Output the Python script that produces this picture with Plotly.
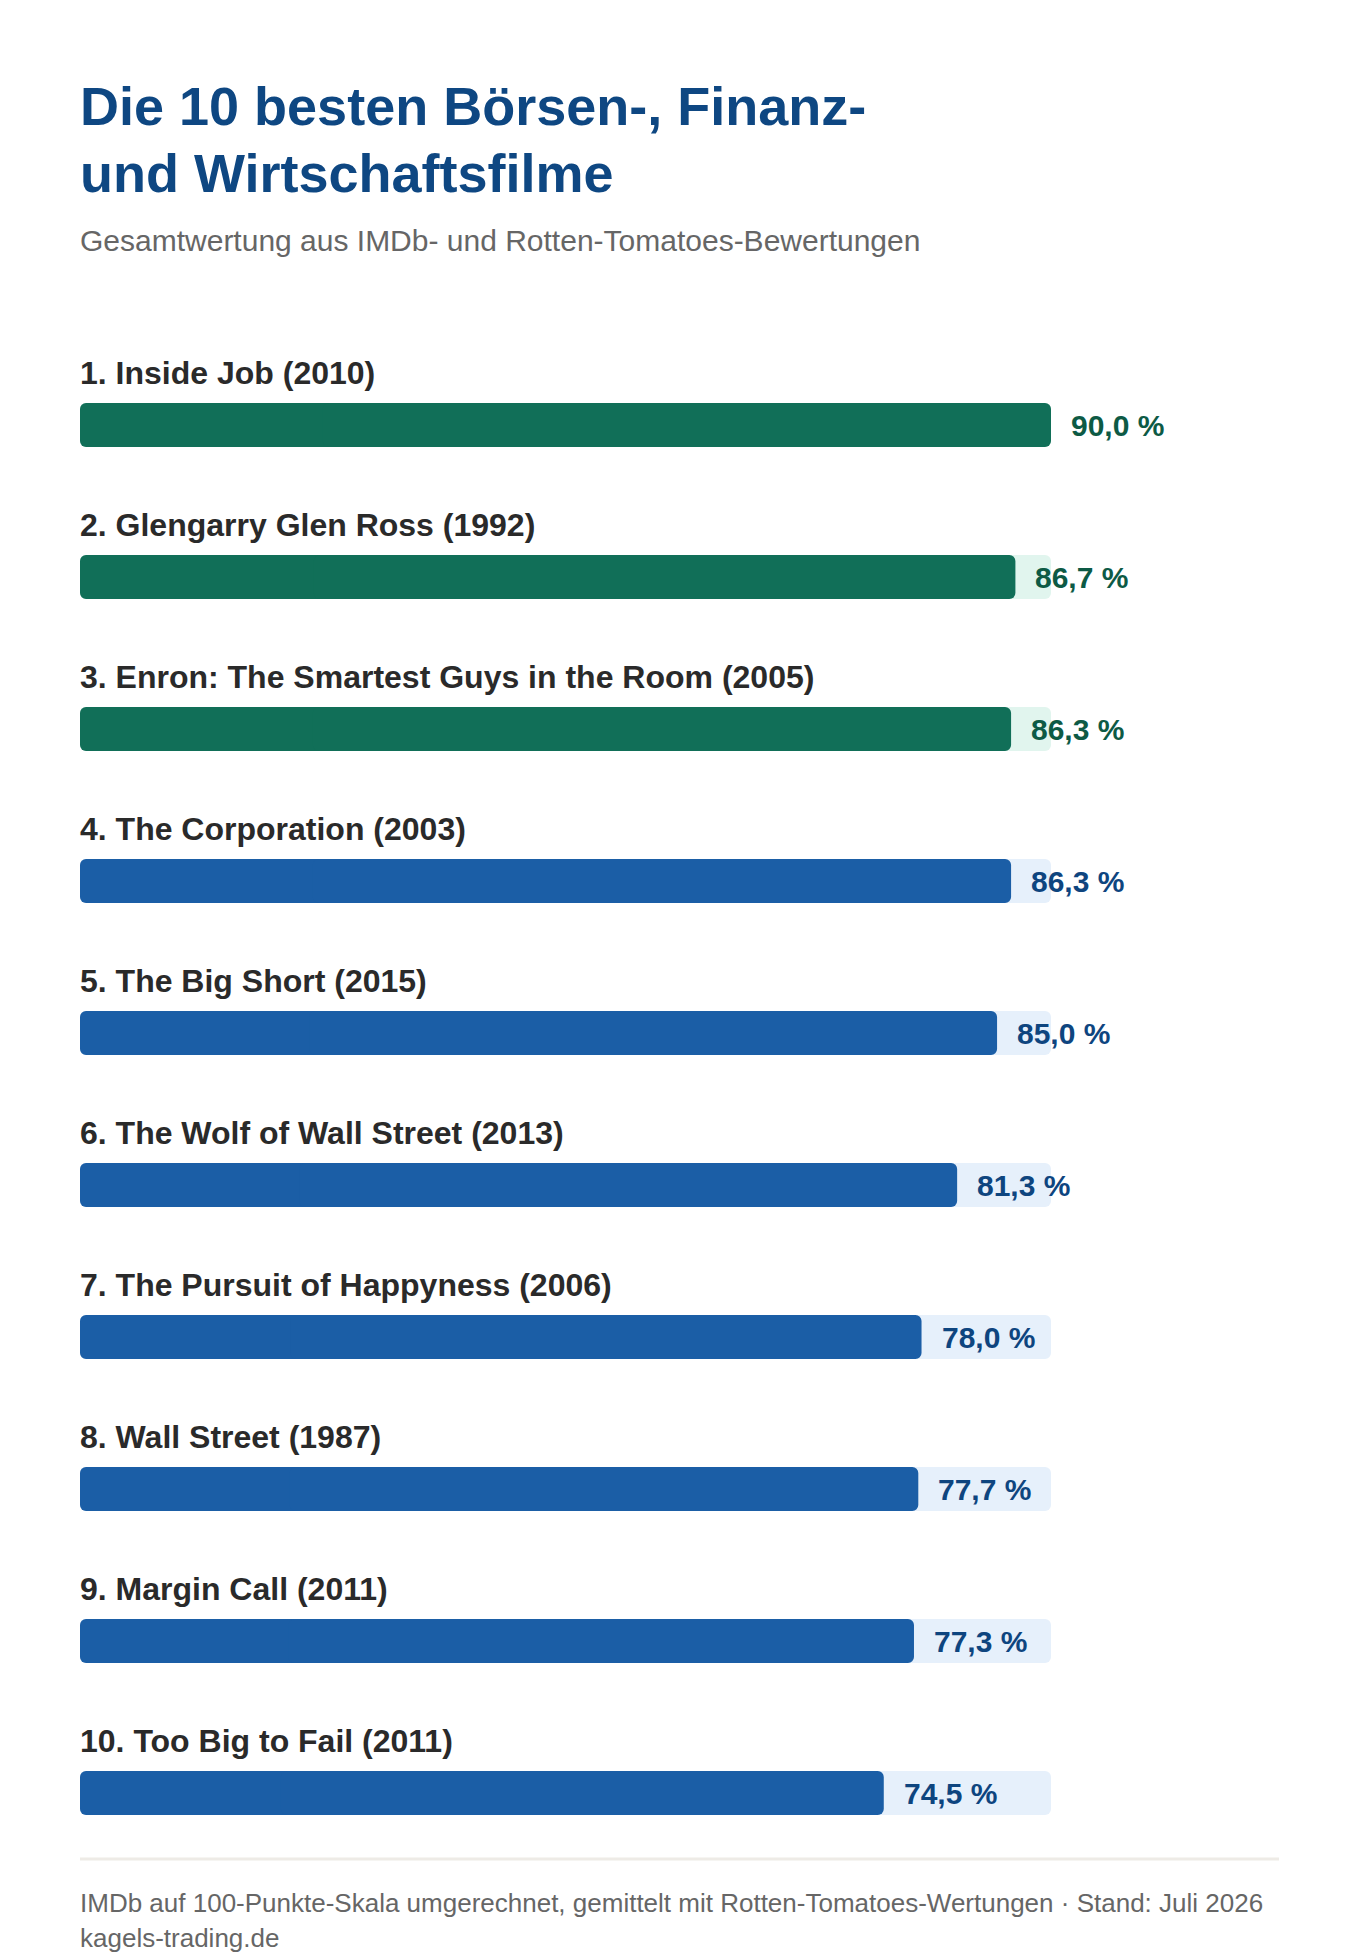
import plotly.graph_objects as go

# ---- data ----
films = [
    "1. Inside Job (2010)",
    "2. Glengarry Glen Ross (1992)",
    "3. Enron: The Smartest Guys in the Room (2005)",
    "4. The Corporation (2003)",
    "5. The Big Short (2015)",
    "6. The Wolf of Wall Street (2013)",
    "7. The Pursuit of Happyness (2006)",
    "8. Wall Street (1987)",
    "9. Margin Call (2011)",
    "10. Too Big to Fail (2011)",
]
scores = [90.0, 86.7, 86.3, 86.3, 85.0, 81.3, 78.0, 77.7, 77.3, 74.5]
value_labels = ["90,0 %", "86,7 %", "86,3 %", "86,3 %", "85,0 %",
                "81,3 %", "78,0 %", "77,7 %", "77,3 %", "74,5 %"]
groups = ["top", "top", "top", "rest", "rest", "rest", "rest", "rest", "rest", "rest"]
scale_max = 90.0

title_lines = ["Die 10 besten Börsen-, Finanz-", "und Wirtschaftsfilme"]
subtitle = "Gesamtwertung aus IMDb- und Rotten-Tomatoes-Bewertungen"
footer_lines = [
    "IMDb auf 100-Punkte-Skala umgerechnet, gemittelt mit Rotten-Tomatoes-Wertungen · Stand: Juli 2026",
    "kagels-trading.de",
]

# ---- styles ----
W, H = 1360, 1960
FONT = "Liberation Sans, Arial, Helvetica, sans-serif"
bar_col = {"top": "#116f58", "rest": "#1b5ea6"}
track_col = {"top": "#e1f5ee", "rest": "#e6f0fb"}
val_col = {"top": "#0d5a45", "rest": "#0e457f"}
RADIUS = 6
BAR_W = 44 / 152

ML, MR, MT, MB = 80, 309, 349, 91
plot_h = H - MT - MB
plot_w = W - ML - MR


def py(px):  # pixel from top -> paper y
    return (H - MB - px) / plot_h


def pxx(px):  # pixel from left -> paper x
    return (px - ML) / plot_w


ys = list(range(len(films)))


def rounded_bar(values, colors, hover):
    """Bar rounded on both ends: two overlapping pieces, one grown to each end."""
    common = dict(y=ys, orientation="h", width=BAR_W, showlegend=False,
                  marker=dict(color=colors, cornerradius=RADIUS, line=dict(width=0)))
    if not hover:
        common["hoverinfo"] = "skip"
    base_r = [v * 0.25 for v in values]
    base_l = [v * 0.75 for v in values]
    right = go.Bar(x=[v - b for v, b in zip(values, base_r)], base=base_r, **common)
    left = go.Bar(x=[-b for b in base_l], base=base_l, **common)
    return [left, right]


fig = go.Figure()
for t in rounded_bar([scale_max] * len(films), [track_col[g] for g in groups], False):
    fig.add_trace(t)
for t in rounded_bar(scores, [bar_col[g] for g in groups], True):
    fig.add_trace(t)

ann = []
for i, (f, s, v, g) in enumerate(zip(films, scores, value_labels, groups)):
    ann.append(dict(x=0, y=i, xref="x", yref="y", text=f, showarrow=False,
                    xanchor="left", yanchor="middle", yshift=52, xshift=-2,
                    font=dict(family=FONT, size=32, color="#2a2a2a", weight="bold")))
    ann.append(dict(x=s, y=i, xref="x", yref="y", text=v, showarrow=False,
                    xanchor="left", yanchor="middle", xshift=18,
                    font=dict(family=FONT, size=30, color=val_col[g], weight="bold")))

paper_texts = [
    (title_lines[0], 106, 54, "#0e4782", "bold"),
    (title_lines[1], 173, 54, "#0e4782", "bold"),
    (subtitle, 241, 30, "#666666", "normal"),
    (footer_lines[0], 1903, 26, "#666666", "normal"),
    (footer_lines[1], 1938, 26, "#666666", "normal"),
]
for txt, ypx, size, col, wt in paper_texts:
    ann.append(dict(x=0, y=py(ypx), xref="paper", yref="paper", text=txt,
                    showarrow=False, xanchor="left", yanchor="middle", xshift=-2,
                    font=dict(family=FONT, size=size, color=col, weight=wt)))

fig.update_layout(
    width=W, height=H, barmode="overlay",
    margin=dict(l=ML, r=MR, t=MT, b=MB),
    paper_bgcolor="white", plot_bgcolor="white",
    xaxis=dict(range=[0, scale_max], visible=False, fixedrange=True),
    yaxis=dict(range=[len(films) - 0.5, -0.5], visible=False, fixedrange=True),
    annotations=ann,
    shapes=[dict(type="line", xref="paper", yref="paper",
                 x0=0, x1=pxx(1279), y0=py(1859), y1=py(1859),
                 line=dict(color="#eeebe6", width=3))],
    showlegend=False,
)

fig.write_html("out.html")
